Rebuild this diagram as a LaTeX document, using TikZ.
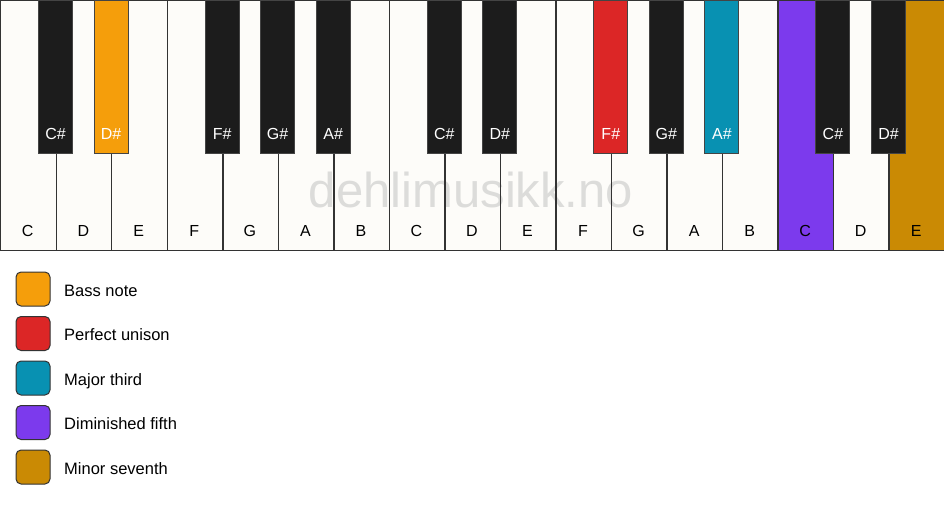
\documentclass[tikz,border=0pt]{standalone}
\usepackage{fontspec}
\setmainfont{Liberation Sans}
\definecolor{keywhite}{HTML}{FDFCF9}
\definecolor{keyblack}{HTML}{1C1C1C}
\definecolor{keyline}{HTML}{333333}
\definecolor{blackline}{HTML}{444444}
\definecolor{wmgray}{HTML}{DCDCDA}
\definecolor{bassnote}{HTML}{F59E0B}
\definecolor{unison}{HTML}{DC2626}
\definecolor{majthird}{HTML}{0891B2}
\definecolor{dimfifth}{HTML}{7C3AED}
\definecolor{minseventh}{HTML}{CA8A04}
\tikzset{
  whitekey/.style={draw=keyline, line width=1.4pt, minimum width=55.5294pt, minimum height=250pt, anchor=north west, inner sep=0pt},
  blackkey/.style={draw=blackline, line width=1pt, minimum width=34pt, minimum height=153pt, anchor=north, inner sep=0pt},
  wlabel/.style={anchor=base, text=black, font=\fontsize{16}{19}\selectfont},
  blabel/.style={anchor=base, text=white, font=\fontsize{16}{19}\selectfont},
  legbox/.style={draw=keyline, line width=1pt, rounded corners=5pt, minimum size=34pt, inner sep=0pt},
  legtext/.style={anchor=base west, text=black, font=\fontsize{16.5}{19}\selectfont, inner sep=0pt},
  watermark/.style={anchor=base, text=wmgray, font=\fontsize{49}{52}\selectfont}
}
\begin{document}
\begin{tikzpicture}[x=1pt,y=-1pt]
\useasboundingbox (0,0) rectangle (944,506);
\fill[white] (0,0) rectangle (944,506);
\fill[keywhite] (0,0) rectangle (944,250);
\node[watermark] (wm) at (471,207) {dehlimusikk.no};
% white keys
\foreach \n/\c [count=\i from 0] in {C/none,D/none,E/none,F/none,G/none,A/none,B/none,C/none,D/none,E/none,F/none,G/none,A/none,B/none,C/dimfifth,D/none,E/minseventh} {
  \node[whitekey, fill=\c] (w\i) at ({\i*55.5294},0) {};
  \node[wlabel] (wl\i) at ({(\i+0.5)*55.5294},236) {\n};
}
% black keys
\foreach \b/\n/\c in {1/C\#/keyblack,2/D\#/bassnote,4/F\#/keyblack,5/G\#/keyblack,6/A\#/keyblack,8/C\#/keyblack,9/D\#/keyblack,11/F\#/unison,12/G\#/keyblack,13/A\#/majthird,15/C\#/keyblack,16/D\#/keyblack} {
  \node[blackkey, fill=\c] (b\b) at ({\b*55.5294},0) {};
  \node[blabel] (bl\b) at ({\b*55.5294},139) {\n};
}
% legend
\foreach \c/\t [count=\k from 0] in {bassnote/Bass note,unison/Perfect unison,majthird/Major third,dimfifth/Diminished fifth,minseventh/Minor seventh} {
  \node[legbox, fill=\c] (lb\k) at (33,{289+44.5*\k}) {};
  \node[legtext] (lt\k) at (64,{296+44.5*\k}) {\t};
}
\end{tikzpicture}
\end{document}
